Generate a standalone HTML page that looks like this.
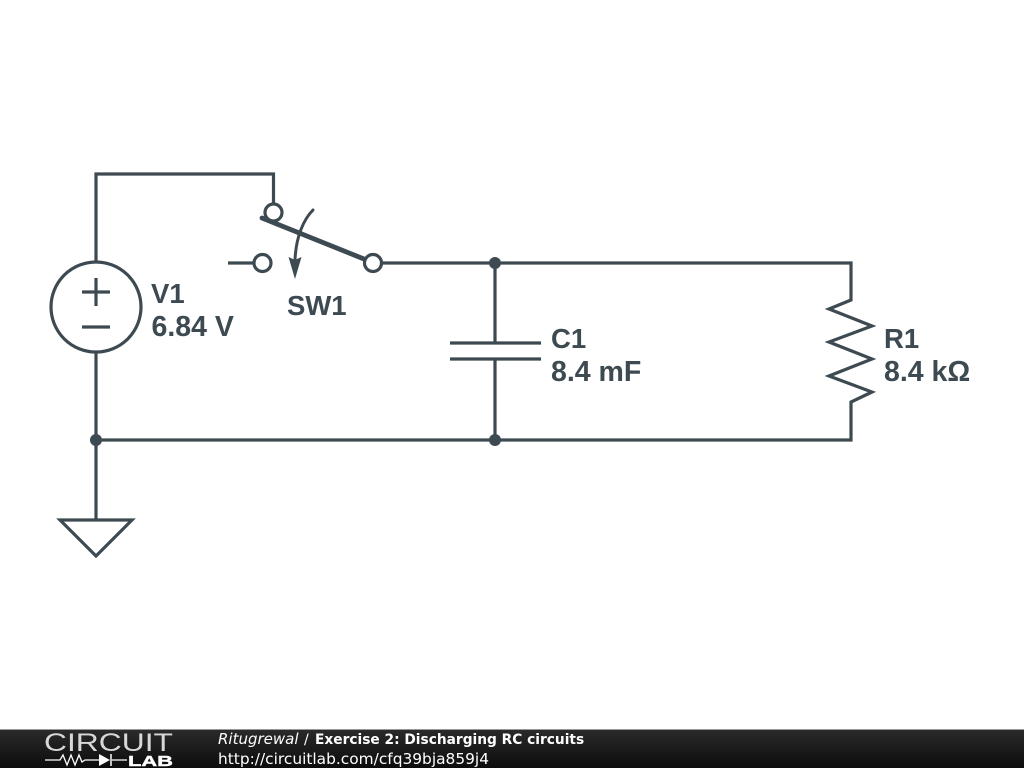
<!DOCTYPE html>
<html><head><meta charset="utf-8"><style>
html,body{margin:0;padding:0;background:#fff;width:1024px;height:768px;overflow:hidden}
svg{display:block}
.l{font:bold 28.500px "Liberation Sans",sans-serif;fill:#3d4a51}
.n{font:bold 27.500px "Liberation Sans",sans-serif;fill:#3d4a51}
.f{font-family:"DejaVu Sans",sans-serif;fill:#fff}
</style></head><body>
<svg width="1024" height="768" viewBox="0 0 1024 768" xmlns="http://www.w3.org/2000/svg">
<defs><linearGradient id="g" x1="0" y1="0" x2="0" y2="1"><stop offset="0" stop-color="#2b2b2b"/><stop offset="1" stop-color="#0c0c0c"/></linearGradient></defs>
<rect width="1024" height="768" fill="#fff"/>
<g fill="none" stroke="#3d4a51" stroke-width="3.200">
<path d="M96 262V174H273.500V204"/>
<path d="M96 352V520"/>
<circle cx="96" cy="307" r="45"/>
<path d="M82 292H110M96 278V306M82 327H110"/>
<path d="M228 263H254"/>
<circle cx="262.500" cy="263" r="8.500"/>
<circle cx="273.500" cy="212.500" r="8.500"/>
<circle cx="373" cy="263" r="8.500"/>
<path d="M382 263H851V300L829 309L872 326L829 342L872 359L829 376L872 392L851 402V440H96"/>
<path d="M495 263V343M495 359V440"/>
<path d="M450 343H541M450 359H541"/>
<path d="M60 520H132L96 556Z"/>
<path d="M313 210C304 219 296 236 295 260" stroke-width="3" stroke-linecap="round"/>
<path d="M262 218L364 259" stroke-width="4.800" stroke-linecap="round"/>
</g>
<path d="M295 279L288.500 257L295 260L301.500 257Z" fill="#3d4a51"/>
<g fill="#3d4a51"><circle cx="96" cy="440" r="6"/><circle cx="495" cy="440" r="6"/><circle cx="495" cy="263" r="6"/></g>
<text class="n" x="151" y="303">V1</text>
<text class="l" x="151.500" y="336">6.84 V</text>
<text class="n" x="287" y="315">SW1</text>
<text class="n" x="551" y="348">C1</text>
<text class="l" x="551" y="381">8.4 mF</text>
<text class="n" x="884" y="348">R1</text>
<text class="l" x="884" y="381">8.4 kΩ</text>
<rect y="729" width="1024" height="39" fill="url(#g)"/>
<rect y="729" width="1024" height="1" fill="#999"/>
<text x="44" y="751" font-family="Liberation Sans,sans-serif" font-size="25" textLength="129" lengthAdjust="spacingAndGlyphs" fill="#d8d8d8">CIRCUIT</text>
<path d="M45 760H60L63 755L67 765L71 755L75 765L79 755L82 762L85 760H100M112 760H127" fill="none" stroke="#fff" stroke-width="1.300"/>
<path d="M99 754L110 760L99 766Z" fill="#fff"/><path d="M111 754V766" stroke="#fff" stroke-width="1.500"/>
<text x="128" y="766" font-family="Liberation Sans,sans-serif" font-weight="bold" font-size="14.500" textLength="45" lengthAdjust="spacingAndGlyphs" fill="#fff" stroke="#fff" stroke-width=".4">LAB</text>
<text class="f" x="218" y="744" font-size="15" font-style="italic">Ritugrewal</text>
<text class="f" x="304" y="744" font-size="14">/</text>
<text class="f" x="315" y="744" font-size="13.750" font-weight="bold">Exercise 2: Discharging RC circuits</text>
<text class="f" x="218" y="764" font-size="15.400">http://circuitlab.com/cfq39bja859j4</text>
</svg>
</body></html>
